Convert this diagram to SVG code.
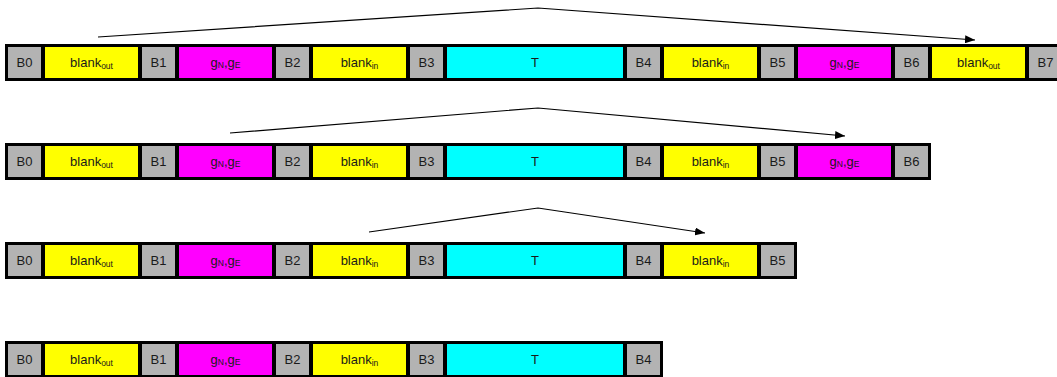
<svg xmlns="http://www.w3.org/2000/svg" width="1057" height="377" viewBox="0 0 1057 377">
  <style>
    .bar { fill: #000; }
    .b { fill: #b3b3b3; }
    .y { fill: #ffff00; }
    .m { fill: #ff00ff; }
    .c { fill: #00ffff; }
    text { font-family: "Liberation Sans", Arial, sans-serif; font-size: 13px; fill: #1a1a1a; text-anchor: middle; }
    .sub { font-size: 8.5px; }
    .conn { fill: none; stroke: #000; stroke-width: 1.2; }
  </style>
  <defs>
    <marker id="arrow" viewBox="0 0 10 8" refX="10" refY="4" markerWidth="10" markerHeight="8" markerUnits="userSpaceOnUse" orient="auto">
      <path d="M0,0 L10,4 L0,8 z" fill="#000"/>
    </marker>
    <!-- reusable cells; each sits at its own x, row offset applied by the parent group -->
    <g id="cellB"><rect class="b" x="0" y="0" width="33" height="31"/></g>
  </defs>

  <!-- Row 1: B0 .. B7 -->
  <g id="row1">
    <rect class="bar" x="5" y="44" width="1060" height="37"/>
    <g id="r1-b0"><rect class="b" x="8" y="47" width="33" height="31"/><text x="24.5" y="67">B0</text></g>
    <g id="r1-bo1"><rect class="y" x="45" y="47" width="93" height="31"/><text x="91.5" y="67">blank<tspan class="sub" dy="2">out</tspan></text></g>
    <g id="r1-b1"><rect class="b" x="142" y="47" width="33" height="31"/><text x="158.5" y="67">B1</text></g>
    <g id="r1-g1"><rect class="m" x="179" y="47" width="93" height="31"/><text x="225.5" y="67">g<tspan class="sub" dy="1">N</tspan><tspan dy="-1">,g</tspan><tspan class="sub" dy="1">E</tspan></text></g>
    <g id="r1-b2"><rect class="b" x="276" y="47" width="33" height="31"/><text x="292.5" y="67">B2</text></g>
    <g id="r1-bi1"><rect class="y" x="313" y="47" width="93" height="31"/><text x="359.5" y="67">blank<tspan class="sub" dy="2">in</tspan></text></g>
    <g id="r1-b3"><rect class="b" x="410" y="47" width="33" height="31"/><text x="426.5" y="67">B3</text></g>
    <g id="r1-t"><rect class="c" x="447" y="47" width="176" height="31"/><text x="535" y="67">T</text></g>
    <g id="r1-b4"><rect class="b" x="627" y="47" width="33" height="31"/><text x="643.5" y="67">B4</text></g>
    <g id="r1-bi2"><rect class="y" x="664" y="47" width="93" height="31"/><text x="710.5" y="67">blank<tspan class="sub" dy="2">in</tspan></text></g>
    <g id="r1-b5"><rect class="b" x="761" y="47" width="33" height="31"/><text x="777.5" y="67">B5</text></g>
    <g id="r1-g2"><rect class="m" x="798" y="47" width="93" height="31"/><text x="844.5" y="67">g<tspan class="sub" dy="1">N</tspan><tspan dy="-1">,g</tspan><tspan class="sub" dy="1">E</tspan></text></g>
    <g id="r1-b6"><rect class="b" x="895" y="47" width="33" height="31"/><text x="911.5" y="67">B6</text></g>
    <g id="r1-bo2"><rect class="y" x="932" y="47" width="93" height="31"/><text x="978.5" y="67">blank<tspan class="sub" dy="2">out</tspan></text></g>
    <g id="r1-b7"><rect class="b" x="1029" y="47" width="33" height="31"/><text x="1045.5" y="67">B7</text></g>
  </g>

  <!-- Row 2: B0 .. B6 -->
  <g id="row2">
    <rect class="bar" x="5" y="143" width="926" height="37"/>
    <g id="r2-b0"><rect class="b" x="8" y="146" width="33" height="31"/><text x="24.5" y="166">B0</text></g>
    <g id="r2-bo1"><rect class="y" x="45" y="146" width="93" height="31"/><text x="91.5" y="166">blank<tspan class="sub" dy="2">out</tspan></text></g>
    <g id="r2-b1"><rect class="b" x="142" y="146" width="33" height="31"/><text x="158.5" y="166">B1</text></g>
    <g id="r2-g1"><rect class="m" x="179" y="146" width="93" height="31"/><text x="225.5" y="166">g<tspan class="sub" dy="1">N</tspan><tspan dy="-1">,g</tspan><tspan class="sub" dy="1">E</tspan></text></g>
    <g id="r2-b2"><rect class="b" x="276" y="146" width="33" height="31"/><text x="292.5" y="166">B2</text></g>
    <g id="r2-bi1"><rect class="y" x="313" y="146" width="93" height="31"/><text x="359.5" y="166">blank<tspan class="sub" dy="2">in</tspan></text></g>
    <g id="r2-b3"><rect class="b" x="410" y="146" width="33" height="31"/><text x="426.5" y="166">B3</text></g>
    <g id="r2-t"><rect class="c" x="447" y="146" width="176" height="31"/><text x="535" y="166">T</text></g>
    <g id="r2-b4"><rect class="b" x="627" y="146" width="33" height="31"/><text x="643.5" y="166">B4</text></g>
    <g id="r2-bi2"><rect class="y" x="664" y="146" width="93" height="31"/><text x="710.5" y="166">blank<tspan class="sub" dy="2">in</tspan></text></g>
    <g id="r2-b5"><rect class="b" x="761" y="146" width="33" height="31"/><text x="777.5" y="166">B5</text></g>
    <g id="r2-g2"><rect class="m" x="798" y="146" width="93" height="31"/><text x="844.5" y="166">g<tspan class="sub" dy="1">N</tspan><tspan dy="-1">,g</tspan><tspan class="sub" dy="1">E</tspan></text></g>
    <g id="r2-b6"><rect class="b" x="895" y="146" width="33" height="31"/><text x="911.5" y="166">B6</text></g>
  </g>

  <!-- Row 3: B0 .. B5 -->
  <g id="row3">
    <rect class="bar" x="5" y="242" width="792" height="37"/>
    <g id="r3-b0"><rect class="b" x="8" y="245" width="33" height="31"/><text x="24.5" y="265">B0</text></g>
    <g id="r3-bo1"><rect class="y" x="45" y="245" width="93" height="31"/><text x="91.5" y="265">blank<tspan class="sub" dy="2">out</tspan></text></g>
    <g id="r3-b1"><rect class="b" x="142" y="245" width="33" height="31"/><text x="158.5" y="265">B1</text></g>
    <g id="r3-g1"><rect class="m" x="179" y="245" width="93" height="31"/><text x="225.5" y="265">g<tspan class="sub" dy="1">N</tspan><tspan dy="-1">,g</tspan><tspan class="sub" dy="1">E</tspan></text></g>
    <g id="r3-b2"><rect class="b" x="276" y="245" width="33" height="31"/><text x="292.5" y="265">B2</text></g>
    <g id="r3-bi1"><rect class="y" x="313" y="245" width="93" height="31"/><text x="359.5" y="265">blank<tspan class="sub" dy="2">in</tspan></text></g>
    <g id="r3-b3"><rect class="b" x="410" y="245" width="33" height="31"/><text x="426.5" y="265">B3</text></g>
    <g id="r3-t"><rect class="c" x="447" y="245" width="176" height="31"/><text x="535" y="265">T</text></g>
    <g id="r3-b4"><rect class="b" x="627" y="245" width="33" height="31"/><text x="643.5" y="265">B4</text></g>
    <g id="r3-bi2"><rect class="y" x="664" y="245" width="93" height="31"/><text x="710.5" y="265">blank<tspan class="sub" dy="2">in</tspan></text></g>
    <g id="r3-b5"><rect class="b" x="761" y="245" width="33" height="31"/><text x="777.5" y="265">B5</text></g>
  </g>

  <!-- Row 4: B0 .. B4 -->
  <g id="row4">
    <rect class="bar" x="5" y="341" width="658" height="37"/>
    <g id="r4-b0"><rect class="b" x="8" y="344" width="33" height="31"/><text x="24.5" y="364">B0</text></g>
    <g id="r4-bo1"><rect class="y" x="45" y="344" width="93" height="31"/><text x="91.5" y="364">blank<tspan class="sub" dy="2">out</tspan></text></g>
    <g id="r4-b1"><rect class="b" x="142" y="344" width="33" height="31"/><text x="158.5" y="364">B1</text></g>
    <g id="r4-g1"><rect class="m" x="179" y="344" width="93" height="31"/><text x="225.5" y="364">g<tspan class="sub" dy="1">N</tspan><tspan dy="-1">,g</tspan><tspan class="sub" dy="1">E</tspan></text></g>
    <g id="r4-b2"><rect class="b" x="276" y="344" width="33" height="31"/><text x="292.5" y="364">B2</text></g>
    <g id="r4-bi1"><rect class="y" x="313" y="344" width="93" height="31"/><text x="359.5" y="364">blank<tspan class="sub" dy="2">in</tspan></text></g>
    <g id="r4-b3"><rect class="b" x="410" y="344" width="33" height="31"/><text x="426.5" y="364">B3</text></g>
    <g id="r4-t"><rect class="c" x="447" y="344" width="176" height="31"/><text x="535" y="364">T</text></g>
    <g id="r4-b4"><rect class="b" x="627" y="344" width="33" height="31"/><text x="643.5" y="364">B4</text></g>
  </g>

  <!-- Mirror connectors above rows 1-3 -->
  <g id="connectors">
    <polyline class="conn" points="98,37 538,8 975,40" marker-end="url(#arrow)"/>
    <polyline class="conn" points="230,133 538,108 845,136" marker-end="url(#arrow)"/>
    <polyline class="conn" points="369,232 538,208 705,233" marker-end="url(#arrow)"/>
  </g>
</svg>
